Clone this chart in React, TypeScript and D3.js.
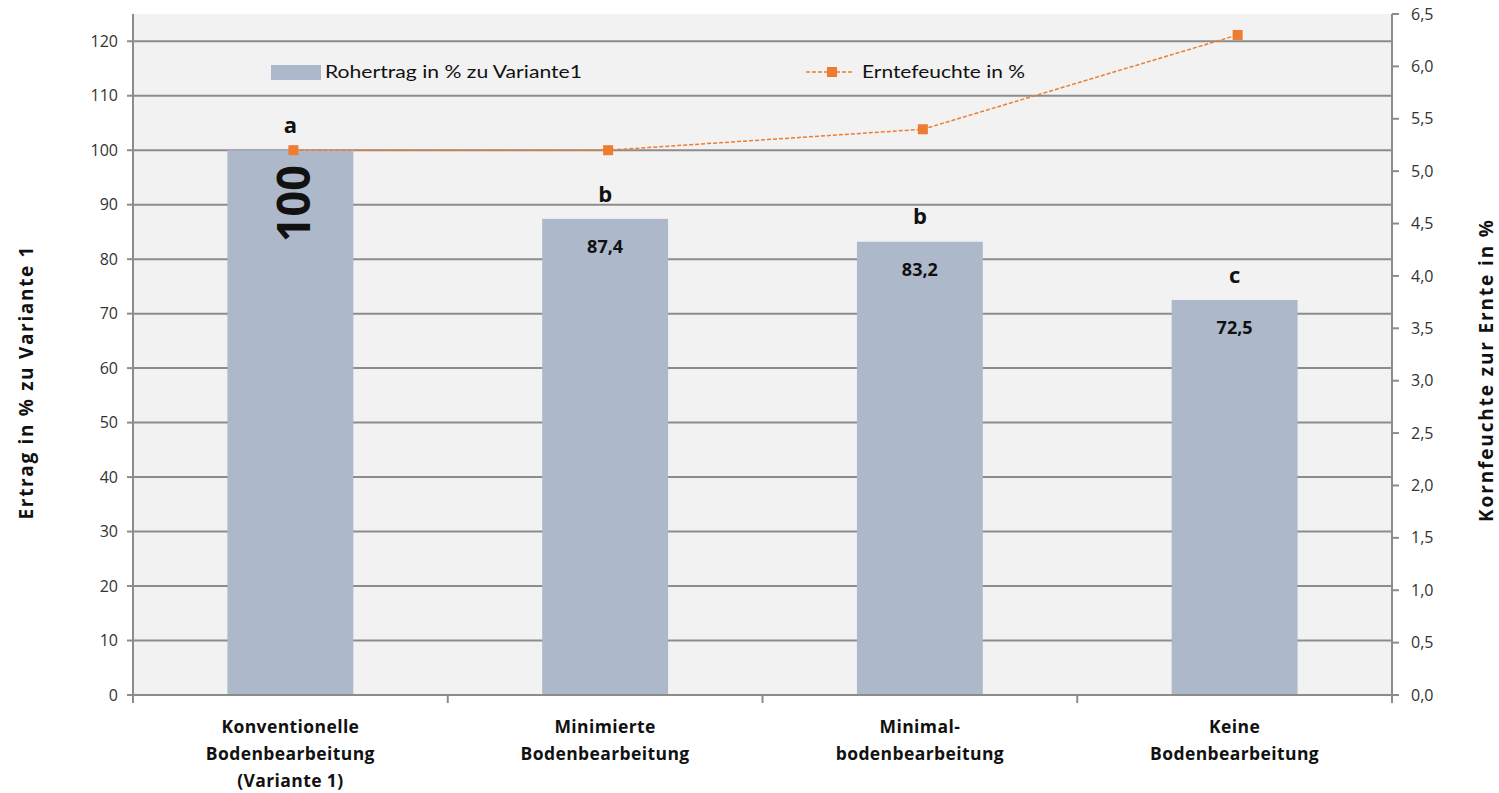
import React from 'react';
import * as d3 from 'd3';

const categories = [
  ['Konventionelle', 'Bodenbearbeitung', '(Variante 1)'],
  ['Minimierte', 'Bodenbearbeitung'],
  ['Minimal-', 'bodenbearbeitung'],
  ['Keine', 'Bodenbearbeitung'],
];
const yieldValues = [100, 87.4, 83.2, 72.5];
const yieldLabels = ['100', '87,4', '83,2', '72,5'];
const significance = ['a', 'b', 'b', 'c'];
const moisture = [5.2, 5.2, 5.4, 6.3];
const leftTicks = [0, 10, 20, 30, 40, 50, 60, 70, 80, 90, 100, 110, 120];
const rightTicks = [0, 0.5, 1, 1.5, 2, 2.5, 3, 3.5, 4, 4.5, 5, 5.5, 6, 6.5];

const W = 1499;
const H = 793;
const m = { left: 133, right: 107, top: 14, bottom: 98 };
const barColor = '#adb9ca';
const lineColor = '#ed7d31';
const gridColor = '#8c8c8c';
const font = "'Open Sans', 'Noto Sans', sans-serif";

const App: React.FC = () => {
  const x = d3
    .scaleBand<number>()
    .domain(d3.range(categories.length))
    .range([m.left, W - m.right])
    .paddingInner(0)
    .paddingOuter(0);
  const y = d3.scaleLinear().domain([0, 125]).range([H - m.bottom, m.top]);
  const y2 = d3.scaleLinear().domain([0, 6.5]).range([H - m.bottom, m.top]);

  const barW = x.bandwidth() * 0.4;
  const cx = (i: number) => (x(i) as number) + x.bandwidth() / 2;

  const line = d3
    .line<number>()
    .x((_, i) => cx(i) + 3)
    .y((d) => y2(d));

  const x0 = m.left;
  const x1 = W - m.right;
  const yb = H - m.bottom;

  return (
    <svg
      width={W}
      height={H}
      style={{ position: 'absolute', left: 0, top: 0, background: '#fff' }}
    >
      {/* plot area */}
      <rect x={x0} y={m.top} width={x1 - x0} height={yb - m.top} fill="#f2f2f2" />

      {/* grid lines */}
      {leftTicks.slice(1).map((t) => (
        <line key={t} x1={x0} x2={x1} y1={y(t)} y2={y(t)} stroke={gridColor} strokeWidth={2} />
      ))}

      {/* bars */}
      {yieldValues.map((v, i) => (
        <rect
          key={i}
          x={cx(i) - barW / 2}
          y={y(v)}
          width={barW}
          height={yb - y(v)}
          fill={barColor}
        />
      ))}

      {/* axes */}
      <line x1={x0} x2={x0} y1={m.top} y2={yb + 1} stroke={gridColor} strokeWidth={2} />
      <line x1={x1} x2={x1} y1={m.top} y2={yb + 1} stroke={gridColor} strokeWidth={2} />
      <line x1={x0} x2={x1} y1={yb} y2={yb} stroke={gridColor} strokeWidth={2} />

      {leftTicks.map((t) => (
        <g key={t}>
          <line x1={x0 - 6} x2={x0} y1={y(t)} y2={y(t)} stroke={gridColor} strokeWidth={2} />
          <text
            x={118}
            y={y(t)}
            dy="0.35em"
            textAnchor="end"
            fontFamily={font}
            fontSize={16}
            fill="#333"
          >
            {t}
          </text>
        </g>
      ))}
      {rightTicks.map((t) => (
        <g key={t}>
          <line x1={x1} x2={x1 + 7} y1={y2(t)} y2={y2(t)} stroke={gridColor} strokeWidth={2} />
          <text
            x={1411}
            y={y2(t)}
            dy="0.35em"
            fontFamily={font}
            fontSize={16}
            fill="#333"
          >
            {d3.format('.1f')(t).replace('.', ',')}
          </text>
        </g>
      ))}
      {d3.range(categories.length + 1).map((i) => {
        const xx = i < categories.length ? (x(i) as number) : x1;
        return (
          <line key={i} x1={xx} x2={xx} y1={yb} y2={yb + 8} stroke={gridColor} strokeWidth={2} />
        );
      })}

      {/* category labels */}
      {categories.map((lines, i) => (
        <text
          key={i}
          x={cx(i)}
          y={733}
          textAnchor="middle"
          fontFamily={font}
          fontWeight="bold"
          fontSize={17.5}
          letterSpacing={0.4}
          fill="#111"
        >
          {lines.map((l, j) => (
            <tspan key={j} x={cx(i)} dy={j === 0 ? 0 : 27}>
              {l}
            </tspan>
          ))}
        </text>
      ))}

      {/* value labels */}
      {yieldValues.map((v, i) =>
        i === 0 ? (
          <text
            key={i}
            transform={`translate(${cx(i) + 20},${y(v) + 15}) rotate(-90)`}
            textAnchor="end"
            fontFamily={font}
            fontWeight="bold"
            fontSize={46}
            textLength={77}
            lengthAdjust="spacingAndGlyphs"
            fill="#111"
          >
            {yieldLabels[i]}
          </text>
        ) : (
          <text
            key={i}
            x={cx(i)}
            y={y(v) + 28}
            dy="0.35em"
            textAnchor="middle"
            fontFamily={font}
            fontWeight="bold"
            fontSize={18}
            fill="#111"
          >
            {yieldLabels[i]}
          </text>
        )
      )}

      {/* significance letters */}
      {significance.map((s, i) => (
        <text
          key={i}
          x={cx(i)}
          y={y(yieldValues[i]) - 25}
          dy="0.35em"
          textAnchor="middle"
          fontFamily={font}
          fontWeight="bold"
          fontSize={22}
          fill="#111"
        >
          {s}
        </text>
      ))}

      {/* moisture line */}
      <path
        d={line(moisture) || ''}
        fill="none"
        stroke={lineColor}
        strokeWidth={1.5}
        strokeDasharray="4,2"
      />
      {moisture.map((v, i) => (
        <rect key={i} x={cx(i) + 3 - 5} y={y2(v) - 5} width={10} height={10} fill={lineColor} />
      ))}

      {/* legend */}
      <rect x={271} y={65} width={50} height={15} fill={barColor} />
      <text
        x={325}
        y={72}
        dy="0.35em"
        fontFamily="Lato, sans-serif"
        fontSize={18}
        textLength={257}
        lengthAdjust="spacingAndGlyphs"
        fill="#111"
      >
        Rohertrag in % zu Variante1
      </text>
      <line x1={806} x2={852} y1={72} y2={72} stroke={lineColor} strokeWidth={1.5} strokeDasharray="4,2" />
      <rect x={827} y={67} width={10} height={10} fill={lineColor} />
      <text
        x={862}
        y={72}
        dy="0.35em"
        fontFamily="Lato, sans-serif"
        fontSize={18}
        textLength={163}
        lengthAdjust="spacingAndGlyphs"
        fill="#111"
      >
        Erntefeuchte in %
      </text>

      {/* axis titles */}
      <text
        transform={`translate(33,383) rotate(-90)`}
        textAnchor="middle"
        fontFamily={font}
        fontWeight="bold"
        fontSize={19}
        textLength={273}
        lengthAdjust="spacing"
        fill="#111"
      >
        Ertrag in % zu Variante 1
      </text>
      <text
        transform={`translate(1493,371) rotate(-90)`}
        textAnchor="middle"
        fontFamily={font}
        fontWeight="bold"
        fontSize={19}
        textLength={302}
        lengthAdjust="spacing"
        fill="#111"
      >
        Kornfeuchte zur Ernte in %
      </text>
    </svg>
  );
};

export default App;
